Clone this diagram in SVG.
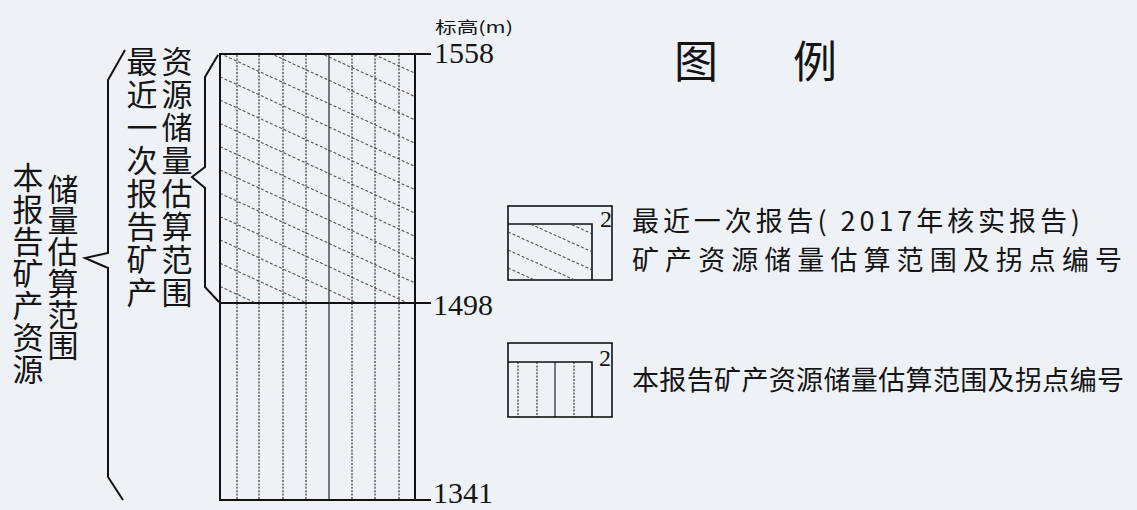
<svg xmlns="http://www.w3.org/2000/svg" width="1137" height="510" viewBox="0 0 1137 510">
<style>
.bg{fill:#eef2f7}
.frame{fill:none;stroke:#111;stroke-width:2}
.thin{fill:none;stroke:#111;stroke-width:1.6}
.vd{stroke:#333;stroke-width:1.2;stroke-dasharray:2 1.4}
.vs{stroke:#333;stroke-width:1.3}
.hd{stroke:#555;stroke-width:1.1;stroke-dasharray:3 2}
.br{fill:none;stroke:#111;stroke-width:2;stroke-linejoin:miter}
.cjk{font-family:"Noto Sans CJK SC","Noto Sans",sans-serif;fill:#151515}
.num{font-family:"Liberation Serif","Times New Roman",serif;fill:#151515}
.vt{font-size:31px;text-anchor:middle}
.lg{font-size:27px}
</style>
<defs>
<clipPath id="clipTop"><rect x="221" y="55" width="193" height="247"/></clipPath>
<clipPath id="clipLeg1"><rect x="509" y="225" width="82" height="54"/></clipPath>
</defs>
<rect class="bg" x="0" y="0" width="1137" height="510"/>

<g id="column">
<g clip-path="url(#clipTop)">
<line class="hd" x1="220" y1="-16.4" x2="415" y2="73.3"/>
<line class="hd" x1="220" y1="6.9" x2="415" y2="96.6"/>
<line class="hd" x1="220" y1="30.2" x2="415" y2="119.9"/>
<line class="hd" x1="220" y1="53.5" x2="415" y2="143.2"/>
<line class="hd" x1="220" y1="76.8" x2="415" y2="166.5"/>
<line class="hd" x1="220" y1="100.1" x2="415" y2="189.8"/>
<line class="hd" x1="220" y1="123.4" x2="415" y2="213.1"/>
<line class="hd" x1="220" y1="146.7" x2="415" y2="236.4"/>
<line class="hd" x1="220" y1="170" x2="415" y2="259.7"/>
<line class="hd" x1="220" y1="193.3" x2="415" y2="283"/>
<line class="hd" x1="220" y1="216.6" x2="415" y2="306.3"/>
<line class="hd" x1="220" y1="239.9" x2="415" y2="329.6"/>
<line class="hd" x1="220" y1="263.2" x2="415" y2="352.9"/>
<line class="hd" x1="220" y1="286.5" x2="415" y2="376.2"/>
</g>
<line class="vd" x1="237" y1="55" x2="237" y2="499"/>
<line class="vd" x1="259" y1="55" x2="259" y2="499"/>
<line class="vd" x1="283" y1="55" x2="283" y2="499"/>
<line class="vd" x1="306" y1="55" x2="306" y2="499"/>
<line class="vs" x1="329" y1="55" x2="329" y2="499"/>
<line class="vd" x1="352" y1="55" x2="352" y2="499"/>
<line class="vd" x1="375" y1="55" x2="375" y2="499"/>
<line class="vd" x1="399" y1="55" x2="399" y2="499"/>
<rect class="frame" x="220" y="54" width="195" height="446"/>
<line class="frame" x1="220" y1="303" x2="415" y2="303"/>
</g>

<g id="connectors">
<line class="frame" x1="415" y1="54" x2="431" y2="54"/>
<line class="frame" x1="415" y1="303" x2="431" y2="303"/>
<line class="frame" x1="415" y1="500" x2="431" y2="500"/>
<polyline class="br" points="218,55 205,77 205,167 192,177 205,188 205,287 219,302"/>
<polyline class="br" points="125,50 108,80 108,253 85,258 108,268 108,477 123,500"/>
</g>

<g id="axis-labels">
<text class="cjk" x="435" y="33" font-size="16" textLength="78" lengthAdjust="spacingAndGlyphs">标高(m)</text>
<text class="num" x="434" y="63" font-size="30">1558</text>
<text class="num" x="433" y="315" font-size="30">1498</text>
<text class="num" x="433" y="503" font-size="30">1341</text>
</g>

<g id="label-recent">
<text class="cjk vt">
<tspan x="142" y="73">最</tspan><tspan x="142" y="106">近</tspan><tspan x="142" y="139">一</tspan><tspan x="142" y="172">次</tspan><tspan x="142" y="205">报</tspan><tspan x="142" y="238">告</tspan><tspan x="142" y="271">矿</tspan><tspan x="142" y="304">产</tspan>
</text>
<text class="cjk vt">
<tspan x="177" y="73">资</tspan><tspan x="177" y="106">源</tspan><tspan x="177" y="139">储</tspan><tspan x="177" y="172">量</tspan><tspan x="177" y="205">估</tspan><tspan x="177" y="238">算</tspan><tspan x="177" y="271">范</tspan><tspan x="177" y="304">围</tspan>
</text>
</g>

<g id="label-this">
<text class="cjk vt">
<tspan x="28" y="189">本</tspan><tspan x="28" y="221">报</tspan><tspan x="28" y="253">告</tspan><tspan x="28" y="285">矿</tspan><tspan x="28" y="317">产</tspan><tspan x="28" y="349">资</tspan><tspan x="28" y="381">源</tspan>
</text>
<text class="cjk vt">
<tspan x="63" y="201">储</tspan><tspan x="63" y="232">量</tspan><tspan x="63" y="263">估</tspan><tspan x="63" y="295">算</tspan><tspan x="63" y="326">范</tspan><tspan x="63" y="357">围</tspan>
</text>
</g>

<g id="legend-title">
<text class="cjk" x="696" y="78" font-size="44" text-anchor="middle">图</text>
<text class="cjk" x="815" y="78" font-size="44" text-anchor="middle">例</text>
</g>

<g id="legend-recent">
<g clip-path="url(#clipLeg1)">
<line class="hd" x1="508" y1="178" x2="592" y2="215.8"/>
<line class="hd" x1="508" y1="196" x2="592" y2="233.8"/>
<line class="hd" x1="508" y1="214" x2="592" y2="251.8"/>
<line class="hd" x1="508" y1="232" x2="592" y2="269.8"/>
<line class="hd" x1="508" y1="250" x2="592" y2="287.8"/>
<line class="hd" x1="508" y1="268" x2="592" y2="305.8"/>
</g>
<rect class="thin" x="508" y="206" width="104" height="74"/>
<polyline class="thin" points="508,224 592,224 592,280"/>
<text class="num" x="600" y="227" font-size="24">2</text>
<text class="cjk lg" x="632" y="231" textLength="448" lengthAdjust="spacing">最近一次报告( 2017年核实报告)</text>
<text class="cjk lg" x="632" y="270" textLength="490" lengthAdjust="spacing">矿产资源储量估算范围及拐点编号</text>
</g>

<g id="legend-this">
<line class="vd" x1="518" y1="362" x2="518" y2="417"/>
<line class="vd" x1="537" y1="362" x2="537" y2="417"/>
<line class="vs" x1="555" y1="362" x2="555" y2="417"/>
<line class="vd" x1="574" y1="362" x2="574" y2="417"/>
<rect class="thin" x="508" y="343" width="104" height="74"/>
<polyline class="thin" points="508,362 592,362 592,417"/>
<text class="num" x="599" y="366" font-size="24">2</text>
<text class="cjk lg" x="632" y="390" textLength="492" lengthAdjust="spacing">本报告矿产资源储量估算范围及拐点编号</text>
</g>
</svg>
